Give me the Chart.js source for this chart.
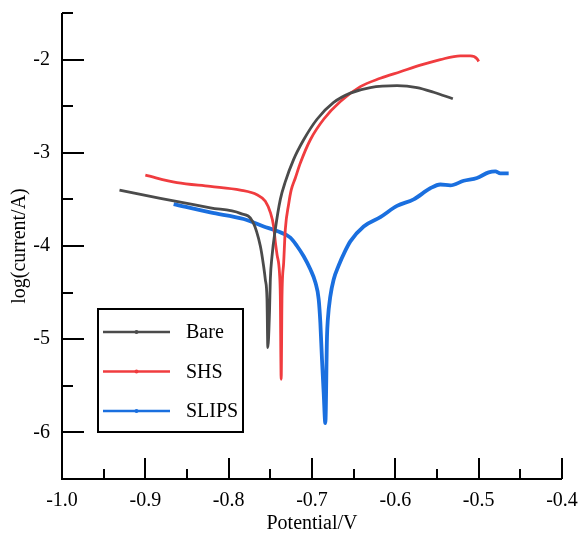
<!DOCTYPE html>
<html>
<head>
<meta charset="utf-8">
<script src="https://cdn.jsdelivr.net/npm/chart.js@4/dist/chart.umd.min.js"></script>
<style>
  html, body { margin: 0; padding: 0; background: #fff; }
  #wrap { width: 579px; height: 533px; }
</style>
</head>
<body>
<div id="wrap"><canvas id="chart"></canvas></div>
<script>
// values: potential (V) and log(current/A)
const bareV = [-0.931, -0.882, -0.822, -0.786, -0.771, -0.762, -0.758, -0.756, -0.754, -0.753,
               -0.751, -0.750, -0.748, -0.744, -0.738, -0.732, -0.722, -0.710, -0.694, -0.674,
               -0.654, -0.630, -0.598, -0.574, -0.554, -0.531];
const bareLog = [-3.40, -3.49, -3.59, -3.65, -3.74, -4.00, -4.22, -4.36, -4.57, -5.09,
                 -4.71, -4.36, -4.11, -3.82, -3.50, -3.31, -3.07, -2.86, -2.64, -2.46,
                 -2.36, -2.30, -2.28, -2.30, -2.35, -2.42];

const shsV = [-0.900, -0.862, -0.822, -0.786, -0.766, -0.756, -0.750, -0.746, -0.744, -0.742,
              -0.739, -0.738, -0.737, -0.736, -0.734, -0.732, -0.728, -0.725, -0.720, -0.714, -0.702,
              -0.686, -0.666, -0.642, -0.618, -0.594, -0.570, -0.546, -0.522, -0.510, -0.502, -0.500];
const shsLog = [-3.24, -3.32, -3.36, -3.40, -3.45, -3.52, -3.64, -3.79, -3.96, -4.09,
                -4.29, -4.54, -5.43, -4.54, -4.18, -3.82, -3.55, -3.40, -3.27, -3.11, -2.86,
                -2.64, -2.45, -2.29, -2.20, -2.13, -2.06, -2.00, -1.96, -1.96, -1.99, -2.02];

const slipsV = [-0.866, -0.822, -0.782, -0.758, -0.742, -0.726, -0.718, -0.710, -0.702, -0.696,
                -0.692, -0.690, -0.688, -0.686, -0.684, -0.682, -0.681, -0.678, -0.674, -0.668,
                -0.660, -0.654, -0.638, -0.618, -0.598, -0.578, -0.558, -0.546, -0.534, -0.518,
                -0.502, -0.488, -0.480, -0.474, -0.464];
const slipsLog = [-3.55, -3.64, -3.71, -3.79, -3.84, -3.91, -4.00, -4.11, -4.25, -4.39,
                  -4.57, -4.82, -5.22, -5.57, -5.90, -4.97, -4.79, -4.54, -4.36, -4.21,
                  -4.05, -3.95, -3.79, -3.69, -3.57, -3.50, -3.38, -3.34, -3.35, -3.30,
                  -3.27, -3.21, -3.20, -3.22, -3.22];

const seriesNames = ["Bare", "SHS", "SLIPS"];
const xTicks = [-1.0, -0.9, -0.8, -0.7, -0.6, -0.5, -0.4];
const yTicks = [-6, -5, -4, -3, -2];

const colors = ["#4b4b4b", "#f03c3f", "#1a6fdf"];
const serif = "'Liberation Serif', 'Times New Roman', serif";

function toPoints(xs, ys) {
    return xs.map((x, i) => ({ x: x, y: ys[i] }));
}

// axis lines + inward ticks (major and minor)
const axisPlugin = {
    id: "axisPlugin",
    afterDraw(chart) {
        const ctx = chart.ctx;
        const xs = chart.scales.x, ys = chart.scales.y;
        const a = chart.chartArea;
        ctx.save();
        ctx.strokeStyle = "#000";
        ctx.lineWidth = 2;
        ctx.beginPath();
        ctx.moveTo(a.left, a.top);
        ctx.lineTo(a.left, a.bottom);
        ctx.lineTo(a.right, a.bottom);
        ctx.stroke();
        ctx.beginPath();
        for (let i = 0; i < xTicks.length; i++) {
            const px = Math.round(xs.getPixelForValue(xTicks[i]));
            ctx.moveTo(px, a.bottom);
            ctx.lineTo(px, a.bottom - 21);
            if (i < xTicks.length - 1) {
                const mx = Math.round(xs.getPixelForValue(xTicks[i] + 0.05));
                ctx.moveTo(mx, a.bottom);
                ctx.lineTo(mx, a.bottom - 10);
            }
        }
        for (let i = 0; i < yTicks.length; i++) {
            const py = Math.round(ys.getPixelForValue(yTicks[i]));
            ctx.moveTo(a.left, py);
            ctx.lineTo(a.left + 22, py);
            const my = Math.round(ys.getPixelForValue(yTicks[i] + 0.5));
            ctx.moveTo(a.left, my);
            ctx.lineTo(a.left + 11, my);
        }
        ctx.stroke();
        ctx.restore();
    }
};

// legend box sitting inside the plot, lower left
const legendPlugin = {
    id: "boxLegend",
    afterDraw(chart) {
        const ctx = chart.ctx;
        const a = chart.chartArea;
        const left = a.left + 36, top = 309, w = 145, h = 123;
        ctx.save();
        ctx.fillStyle = "#fff";
        ctx.fillRect(left, top, w, h);
        ctx.strokeStyle = "#000";
        ctx.lineWidth = 2;
        ctx.strokeRect(left, top, w, h);
        ctx.font = "20px " + serif;
        ctx.textBaseline = "middle";
        chart.data.datasets.forEach((ds, i) => {
            const y = top + 23 + i * 39.5;
            ctx.strokeStyle = ds.borderColor;
            ctx.lineWidth = 2.5;
            ctx.beginPath();
            ctx.moveTo(left + 5, y);
            ctx.lineTo(left + 72, y);
            ctx.stroke();
            ctx.fillStyle = ds.borderColor;
            ctx.beginPath();
            ctx.arc(left + 38.5, y, 2, 0, Math.PI * 2);
            ctx.fill();
            ctx.fillStyle = "#000";
            ctx.fillText(ds.label, left + 88, y + 1);
        });
        ctx.restore();
    }
};

new Chart(document.getElementById("chart"), {
    type: "scatter",
    data: {
        datasets: [
            { label: seriesNames[0], data: toPoints(bareV, bareLog), borderColor: colors[0], borderWidth: 2.8 },
            { label: seriesNames[1], data: toPoints(shsV, shsLog), borderColor: colors[1], borderWidth: 2.8 },
            { label: seriesNames[2], data: toPoints(slipsV, slipsLog), borderColor: colors[2], borderWidth: 3.8 }
        ].map(d => Object.assign(d, { showLine: true, pointRadius: 0, fill: false, cubicInterpolationMode: "monotone" }))
    },
    options: {
        responsive: true,
        maintainAspectRatio: false,
        animation: false,
        layout: { padding: { top: 13, right: 17, left: 0, bottom: 0 } },
        plugins: { legend: { display: false }, tooltip: { enabled: false } },
        scales: {
            x: {
                type: "linear",
                min: -1.0, max: -0.4,
                afterBuildTicks: s => { s.ticks = xTicks.map(v => ({ value: v })); },
                afterFit: s => { s.height = 54; s.paddingLeft = 0; s.paddingRight = 0; },
                grid: { display: false },
                border: { display: false },
                ticks: {
                    color: "#000",
                    font: { family: serif, size: 20 },
                    padding: 2,
                    maxRotation: 0,
                    callback: v => v.toFixed(1)
                },
                title: {
                    display: true, text: "Potential/V", color: "#000",
                    font: { family: serif, size: 20 },
                    padding: { top: 0, bottom: -3 }
                }
            },
            y: {
                type: "linear",
                min: -6.5, max: -1.5,
                afterBuildTicks: s => { s.ticks = yTicks.map(v => ({ value: v })); },
                afterFit: s => { s.width = 62; s.paddingTop = 0; s.paddingBottom = 0; },
                grid: { display: false },
                border: { display: false },
                ticks: {
                    color: "#000",
                    font: { family: serif, size: 20 },
                    padding: 4,
                    callback: v => String(v)
                },
                title: {
                    display: true, text: "log(current/A)", color: "#000",
                    font: { family: serif, size: 20 },
                    padding: { top: 8, bottom: 0 }
                }
            }
        }
    },
    plugins: [axisPlugin, legendPlugin]
});
</script>
</body>
</html>
